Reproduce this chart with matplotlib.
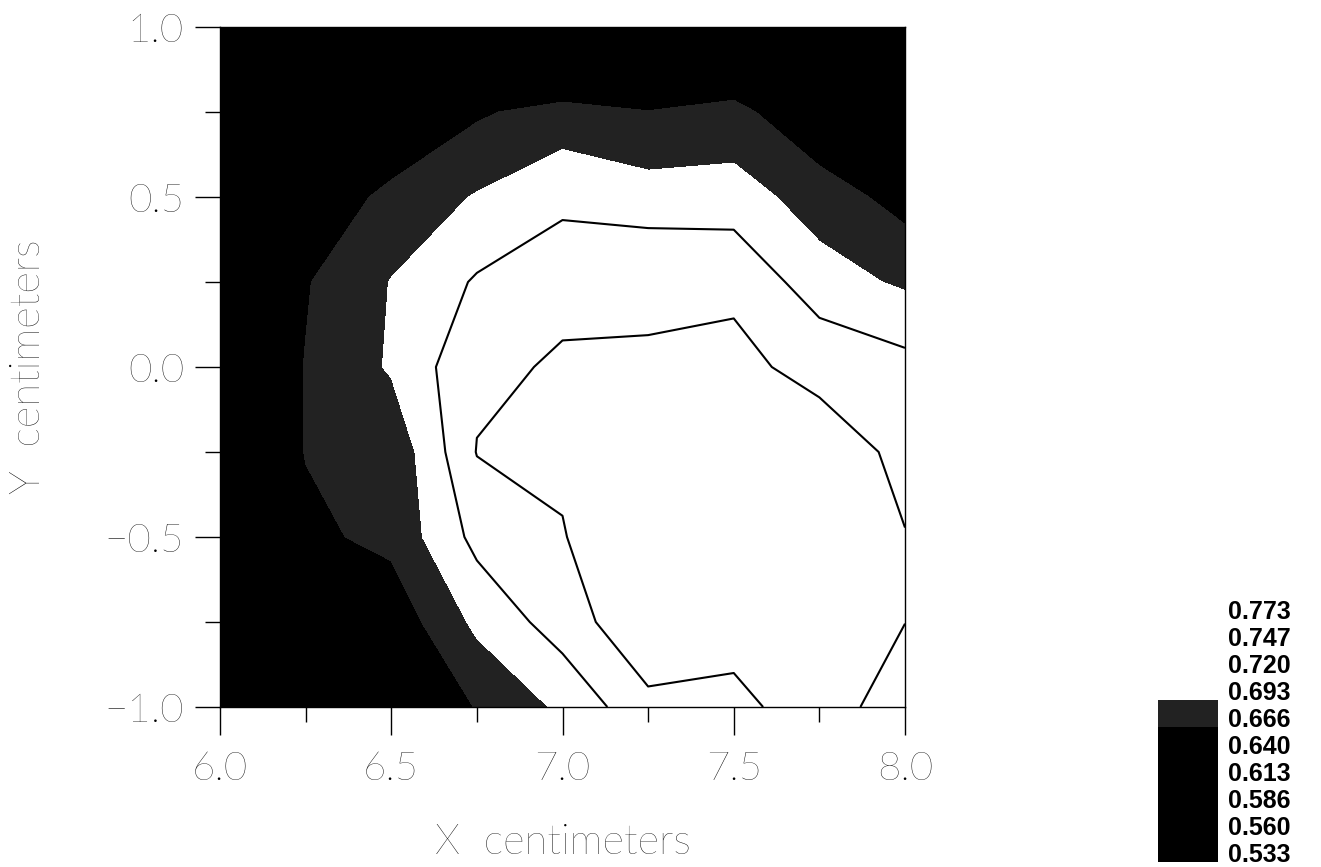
import matplotlib
matplotlib.use("Agg")
import matplotlib.pyplot as plt
import numpy as np
from matplotlib.colors import ListedColormap, BoundaryNorm

# grid of the measurement (cm)
x_cm = [6.0, 6.25, 6.5, 6.75, 7.0, 7.25, 7.5, 7.75, 8.0]
y_cm = [-1.0, -0.75, -0.5, -0.25, 0.0, 0.25, 0.5, 0.75, 1.0]

# values, one row per y (bottom to top), one column per x
z_rows = [
    [0.560, 0.600, 0.620, 0.668, 0.698, 0.740, 0.735, 0.770, 0.722],
    [0.580, 0.630, 0.648, 0.699, 0.733, 0.769, 0.765, 0.768, 0.7475],
    [0.600, 0.660, 0.673, 0.728, 0.746, 0.765, 0.772, 0.768, 0.7475],
    [0.620, 0.667, 0.672, 0.748, 0.750, 0.760, 0.762, 0.756, 0.743],
    [0.630, 0.667, 0.696, 0.742, 0.7495, 0.7476, 0.751, 0.742, 0.729],
    [0.620, 0.664, 0.694, 0.723, 0.7415, 0.746, 0.744, 0.704, 0.689],
    [0.600, 0.640, 0.675, 0.695, 0.712, 0.705, 0.705, 0.681, 0.655],
    [0.580, 0.610, 0.630, 0.662, 0.678, 0.667, 0.675, 0.640, 0.620],
    [0.560, 0.580, 0.600, 0.610, 0.575, 0.600, 0.610, 0.600, 0.580],
]

levels = [0.533, 0.560, 0.586, 0.613, 0.640, 0.666, 0.693, 0.720, 0.747, 0.773]
level_labels = ["0.533", "0.560", "0.586", "0.613", "0.640",
                "0.666", "0.693", "0.720", "0.747", "0.773"]
line_levels = [0.720, 0.747]

# fill for each band between two levels
band_colors = ["black", "black", "black", "black", "black",
               "#222222", "white", "white", "white"]

X, Y = np.meshgrid(x_cm, y_cm)
Z = np.array(z_rows)

plt.rcParams['font.family'] = ['Lato', 'DejaVu Sans']

fig = plt.figure(figsize=(13.21, 8.67), dpi=100)
ax = fig.add_axes([220/1321, 1 - 707/867, 685/1321, 680/867])

cmap = ListedColormap(band_colors)
norm = BoundaryNorm(levels, cmap.N)
ax.contourf(X, Y, Z, levels=levels, cmap=cmap, norm=norm)
ax.contour(X, Y, Z, levels=line_levels, colors="black", linewidths=1.5)

ax.set_xlim(6.0, 8.0)
ax.set_ylim(-1.0, 1.0)
ax.set_xticks([6.0, 6.5, 7.0, 7.5, 8.0])
ax.set_xticks([6.25, 6.75, 7.25, 7.75], minor=True)
ax.set_yticks([-1.0, -0.5, 0.0, 0.5, 1.0])
ax.set_yticks([-0.75, -0.25, 0.25, 0.75], minor=True)
ax.set_xticklabels(["6.0", "6.5", "7.0", "7.5", "8.0"])
ax.set_yticklabels(["\u22121.0", "\u22120.5", "0.0", "0.5", "1.0"])

ax.tick_params(axis="x", which="major", length=20, width=1, pad=12,
               labelsize=29)
ax.tick_params(axis="y", which="major", length=18, width=1, pad=8,
               labelsize=29)
ax.tick_params(which="minor", length=11, width=1)
for lab in ax.get_xticklabels() + ax.get_yticklabels():
    lab.set_fontweight("light")
for sp in ax.spines.values():
    sp.set_linewidth(1.0)

ax.set_xlabel("X  centimeters", fontsize=30, fontweight="light")
ax.set_ylabel("Y  centimeters", fontsize=30, fontweight="light")
ax.xaxis.set_label_coords(0.5, -(824 - 707) / 680)
ax.xaxis.label.set_verticalalignment("top")
ax.yaxis.set_label_coords(-(220 - 48) / 685, 0.5)

# legend swatch, one step per level
leg = fig.add_axes([1158/1321, 1 - 862/867, 60/1321, 243/867])
for k in range(len(band_colors)):
    if band_colors[k] != "white":
        leg.bar(0.5, 1, bottom=k, width=1, color=band_colors[k])
leg.set_xlim(0, 1)
leg.set_ylim(0, len(levels) - 1)
leg.axis("off")
for k in range(len(levels)):
    leg.text(70/60, k + 7/27, level_labels[k], transform=leg.get_yaxis_transform(),
             ha="left", va="center", fontsize=18, fontweight="bold",
             family=["Liberation Sans", "DejaVu Sans"], clip_on=False)

fig.savefig("out.png", dpi=100)
